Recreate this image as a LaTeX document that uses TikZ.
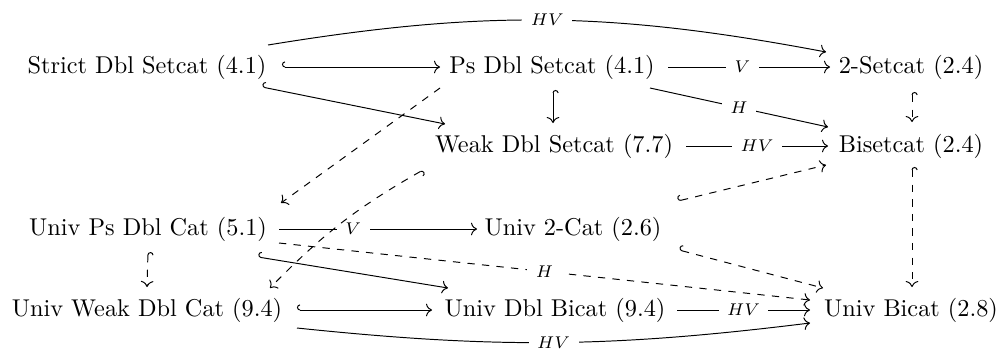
\documentclass[tikz,border=0pt]{standalone}
\usetikzlibrary{arrows.meta,calc}
\begin{document}
\begin{tikzpicture}[x=0.4115pt,y=0.4115pt,line width=0.4pt,
  obj/.style={inner sep=0pt},
  ar/.style={-{Computer Modern Rightarrow}},
  hk/.style={{Hooks[right]}-{Computer Modern Rightarrow}},
  lbl/.style={fill=white,inner xsep=3.5pt,inner ysep=1pt,font=\scriptsize}]
\useasboundingbox (0,0) rectangle (999,-349);
\node[obj] (A) at (147,-67) {Strict Dbl Setcat (4.1)};
\node[obj] (B) at (552,-67) {Ps Dbl Setcat (4.1)};
\node[obj] (C) at (911,-67) {2-Setcat (2.4)};
\node[obj] (D) at (554,-146) {Weak Dbl Setcat (7.7)};
\node[obj] (E) at (911,-146) {Bisetcat (2.4)};
\node[obj] (F) at (148,-229) {Univ Ps Dbl Cat (5.1)};
\node[obj] (G) at (573,-229) {Univ 2-Cat (2.6)};
\node[obj] (H) at (147,-310) {Univ Weak Dbl Cat (9.4)};
\node[obj] (I) at (555,-310) {Univ Dbl Bicat (9.4)};
\node[obj] (J) at (911,-310) {Univ Bicat (2.8)};
% solid
\draw[hk] ($(A)+(135,0)$) -- ($(B)+(-112,0)$);
\draw[ar] ($(A)+(121,22)$) to[bend left=10] node[lbl]{$HV$} ($(C)+(-85,15)$);
\draw[ar] ($(B)+(116,0)$) -- node[lbl,pos=0.46]{$V$} ($(C)+(-81,0)$);
\draw[hk] ($(B)+(1,-23)$) -- ($(D)+(-1,23)$);
\draw[ar] ($(B)+(98,-21)$) -- node[lbl]{$H$} ($(E)+(-83,19)$);
\draw[hk] ($(A)+(115,-20)$) -- ($(D)+(-109,22)$);
\draw[ar] ($(D)+(132,0)$) -- node[lbl]{$HV$} ($(E)+(-83,0)$);
\draw[ar] ($(F)+(131,0)$) -- node[lbl,pos=0.375]{$V$} ($(G)+(-96,0)$);
\draw[hk] ($(F)+(110,-28)$) -- ($(I)+(-107,22)$);
\draw[hk] ($(H)+(150,0)$) -- ($(I)+(-123,0)$);
\draw[ar] ($(I)+(122,0)$) -- node[lbl]{$HV$} ($(J)+(-101,0)$);
\draw[ar] ($(H)+(150,-18)$) to[bend right=6.5] node[lbl]{$HV$} ($(J)+(-101,-13)$);
% dashed
\draw[hk,dashed] ($(C)+(1,-25)$) -- ($(E)+(1,24)$);
\draw[hk,dashed] ($(E)+(1,-21)$) -- ($(J)+(1,23)$);
\draw[ar,dashed] ($(B)+(-112,-21)$) -- ($(F)+(133,26)$);
\draw[hk,dashed] ($(D)+(-131,-24)$) to[bend right=8] ($(H)+(123,22)$);
\draw[hk,dashed] ($(G)+(105,28)$) -- ($(E)+(-85,-19)$);
\draw[hk,dashed] ($(G)+(106,-21)$) -- ($(J)+(-88,22)$);
\draw[ar,dashed] ($(F)+(131,-14)$) -- node[lbl]{$H$} ($(J)+(-101,10)$);
\draw[hk,dashed] ($(F)+(0,-23)$) -- ($(H)+(0,23)$);
\end{tikzpicture}
\end{document}
